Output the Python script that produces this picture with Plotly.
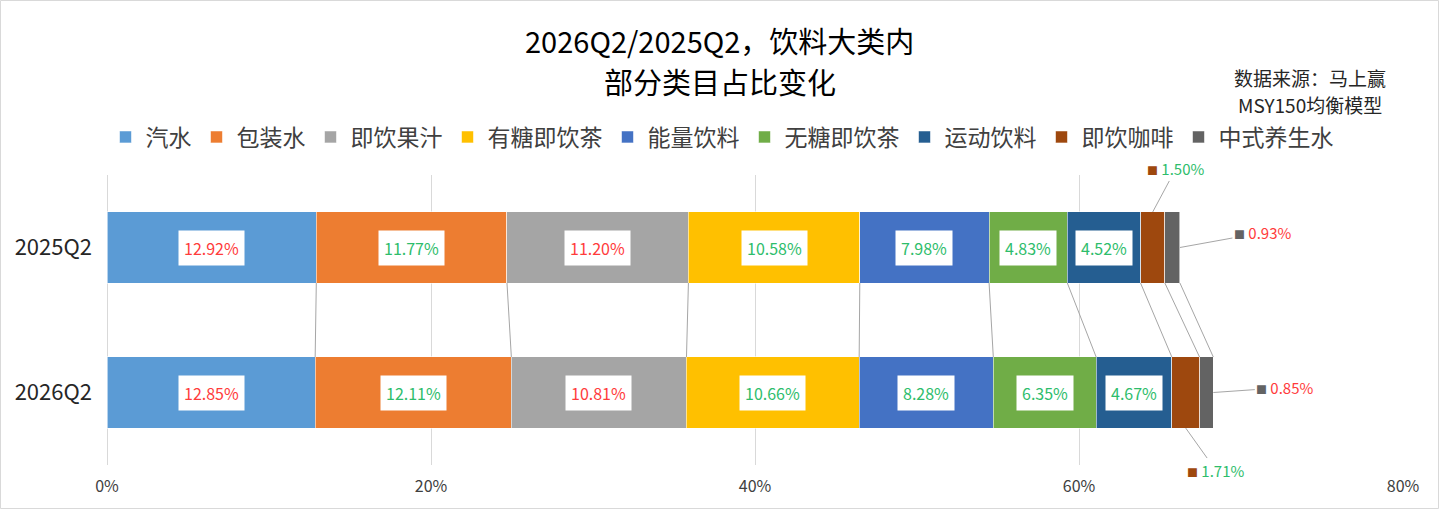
import plotly.graph_objects as go
import numpy as np

categories = ["汽水", "包装水", "即饮果汁", "有糖即饮茶", "能量饮料", "无糖即饮茶", "运动饮料", "即饮咖啡", "中式养生水"]
periods = ["2025Q2", "2026Q2"]
share_2025 = [12.92, 11.77, 11.20, 10.58, 7.98, 4.83, 4.52, 1.50, 0.93]
share_2026 = [12.85, 12.11, 10.81, 10.66, 8.28, 6.35, 4.67, 1.71, 0.85]
colors = ["#5B9BD5", "#ED7D31", "#A5A5A5", "#FFC000", "#4472C4", "#70AD47", "#255E91", "#9E480E", "#636363"]
x_ticks = [0, 20, 40, 60, 80]

RED = "#FF3B3B"
GREEN = "#2EBD6B"
FONT = "Noto Sans CJK SC"
BAR_W = 0.49

# layout geometry (pixels)
W, H = 1439, 509
ML, MR, MT, MB = 107, 36, 175, 44
PW, PH = W - ML - MR, H - MT - MB


def px_x(p):
    return (p - ML) / PW


def px_y(p):
    return (H - MB - p) / PH


series = [share_2025, share_2026]
ypos = [0, 1]

fig = go.Figure()
for i, cat in enumerate(categories):
    fig.add_trace(go.Bar(
        name=cat, orientation="h",
        x=[share_2025[i], share_2026[i]], y=ypos, width=BAR_W,
        marker=dict(color=colors[i], line=dict(color="rgba(255,255,255,0.7)", width=0.8)),
        hoverinfo="skip",
    ))

cums = [np.cumsum(s) for s in series]

# series lines between bars
lx, ly = [], []
for i in range(len(categories)):
    lx += [cums[0][i], cums[1][i], None]
    ly += [ypos[0] + BAR_W / 2, ypos[1] - BAR_W / 2, None]
fig.add_trace(go.Scatter(x=lx, y=ly, mode="lines", line=dict(color="#A6A6A6", width=1),
                         showlegend=False, hoverinfo="skip"))

annotations = []
# callout offsets for small segments: (period idx, category idx) -> (anchor side, ax, ay)
callouts = {
    (0, 7): ("top", 23, -43),
    (0, 8): ("right", 83, -15),
    (1, 7): ("bottom", 30, 42),
    (1, 8): ("right", 72, -5),
}
for p, s in enumerate(series):
    cum = cums[p]
    for i, v in enumerate(s):
        col = RED if share_2026[i] < share_2025[i] else GREEN
        start = cum[i] - v
        if (p, i) in callouts:
            side, ax, ay = callouts[(p, i)]
            if side == "right":
                x, y = cum[i], ypos[p]
            elif side == "top":
                x, y = start + v / 2, ypos[p] - BAR_W / 2
            else:
                x, y = start + v / 2, ypos[p] + BAR_W / 2
            annotations.append(dict(
                x=x, y=y, xref="x", yref="y", ax=ax, ay=ay,
                text=f"<span style='color:{colors[i]};font-size:11px'>■</span> {v:.2f}%",
                showarrow=True, arrowhead=0, arrowwidth=1, arrowcolor="#A6A6A6",
                standoff=0, startstandoff=0,
                font=dict(family=FONT, size=15, color=col),
            ))
        else:
            annotations.append(dict(
                x=start + v / 2, y=ypos[p], xref="x", yref="y",
                text=f"{v:.2f}%", showarrow=False,
                bgcolor="white", borderpad=5,
                font=dict(family=FONT, size=16, color=col),
            ))

# title lines
for txt, ypx in [("2026Q2/2025Q2，饮料大类内", 40), ("部分类目占比变化", 81)]:
    annotations.append(dict(x=px_x(719.5), y=px_y(ypx), xref="paper", yref="paper",
                            xanchor="center", yanchor="middle", borderpad=0,
                            text=txt, showarrow=False,
                            font=dict(family=FONT, size=29, color="#000000")))
# source
for txt, ypx in [("数据来源：马上赢", 77), ("MSY150均衡模型", 104)]:
    annotations.append(dict(x=px_x(1310), y=px_y(ypx), xref="paper", yref="paper",
                            xanchor="center", yanchor="middle",
                            text=txt, showarrow=False,
                            font=dict(family=FONT, size=19, color="#262626")))

fig.update_layout(
    width=W, height=H, autosize=False,
    margin=dict(l=ML, r=MR, t=MT, b=MB),
    barmode="stack",
    plot_bgcolor="white", paper_bgcolor="white",
    font=dict(family=FONT, color="#404040"),
    showlegend=True,
    legend=dict(orientation="h", xref="container", x=722 / W, xanchor="center",
                yref="container", y=1 - 137 / H, yanchor="middle",
                traceorder="normal", font=dict(family=FONT, size=23, color="#404040"),
                itemclick=False, itemdoubleclick=False),
    xaxis=dict(range=[0, 80], tickvals=x_ticks, ticktext=[f"{t}%" for t in x_ticks],
               showgrid=True, gridcolor="#D9D9D9", gridwidth=1,
               zeroline=True, zerolinecolor="#D9D9D9", zerolinewidth=1,
               showline=False, ticks="", ticklabelstandoff=10,
               tickfont=dict(family=FONT, size=16, color="#404040")),
    yaxis=dict(range=[1.5, -0.5], tickvals=ypos, ticktext=periods,
               showgrid=False, zeroline=False, showline=False, ticks="",
               ticklabelstandoff=14,
               tickfont=dict(family=FONT, size=22, color="#262626")),
    annotations=annotations,
    shapes=[dict(type="rect", xref="paper", yref="paper",
                 x0=px_x(0.5), x1=px_x(W - 0.5), y0=px_y(H - 0.5), y1=px_y(0.5),
                 line=dict(color="#D9D9D9", width=1), layer="below")],
)

fig.write_html("out.html")
